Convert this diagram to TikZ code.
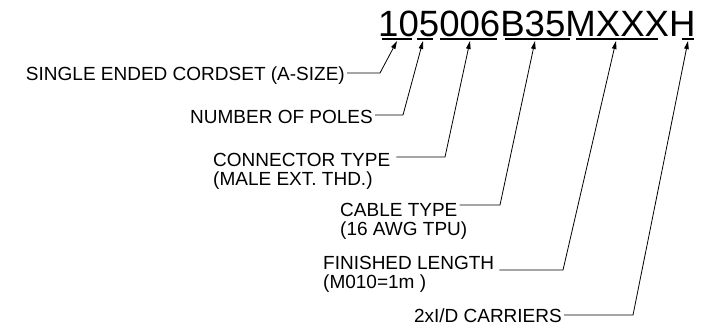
\documentclass[tikz,border=0pt]{standalone}
\usepackage{fontspec}
\newfontfamily\cadfont{Liberation Sans}
\usetikzlibrary{positioning, arrows.meta}

\begin{document}
\begin{tikzpicture}[
		x=1pt, y=-1pt,
		code/.style={font=\cadfont\fontsize{36.6}{36}\selectfont, inner sep=0pt, anchor=base west},
		callout/.style={font=\cadfont\fontsize{19}{20}\selectfont, inner sep=0pt},
		leader/.style={-{Triangle[length=8pt, width=4.5pt]}, line width=0.8pt, shorten <=2pt},
		bar/.style={line width=2.5pt}
	]
		\useasboundingbox (0,0) rectangle (719,329);
		
		\node[code] (partno) at (378,37) {105006B35MXXXH};
		
		\draw[bar] (382,39) -- (412,39);
		\draw[bar] (417,39) -- (433,39);
		\draw[bar] (440,39) -- (497,39);
		\draw[bar] (505,39) -- (570,39);
		\draw[bar] (576,39) -- (658,39);
		\draw[bar] (682,39) -- (694,39);
		
		\coordinate (tsize) at (397,41);
		\coordinate (tpoles) at (423,41);
		\coordinate (tconn) at (470,41);
		\coordinate (tcable) at (535,41);
		\coordinate (tlength) at (616,41);
		\coordinate (tcarr) at (688,41);
		
		\coordinate (bsize) at (380,73);
		\coordinate (bpoles) at (403,115);
		\coordinate (bconn) at (445,157);
		\coordinate (bcable) at (500,205);
		\coordinate (blength) at (563,270);
		\coordinate (bcarr) at (633,315);
		
		\node[callout, anchor=north east] (size) at (345,67) {SINGLE ENDED CORDSET (A-SIZE)};
		\node[callout, anchor=north east] (poles) at (373,110) {NUMBER OF POLES};
		\node[callout, anchor=north west] (conn) at (213,153) {CONNECTOR TYPE};
		\node[callout, below=5pt of conn.south west, anchor=north west] (connsub) {(MALE EXT. THD.)};
		\node[callout, anchor=north west] (cable) at (340,203) {CABLE TYPE};
		\node[callout, below=5pt of cable.south west, anchor=north west] (cablesub) {(16 AWG TPU)};
		\node[callout, anchor=north west] (length) at (323,256) {FINISHED LENGTH};
		\node[callout, below=5pt of length.south west, anchor=north west] (lengthsub) {(M010=1m )};
		\node[callout, anchor=north east] (carr) at (562,309) {2xI/D CARRIERS};
		
		\draw[leader] (size.east |- bsize) -- (bsize) -- (tsize);
		\draw[leader] (poles.east |- bpoles) -- (bpoles) -- (tpoles);
		\draw[leader, shorten <=6pt] (conn.east |- bconn) -- (bconn) -- (tconn);
		\draw[leader] (cable.east |- bcable) -- (bcable) -- (tcable);
		\draw[leader, shorten <=5pt] (length.east |- blength) -- (blength) -- (tlength);
		\draw[leader] (carr.east |- bcarr) -- (bcarr) -- (tcarr);
	\end{tikzpicture}
\end{document}
